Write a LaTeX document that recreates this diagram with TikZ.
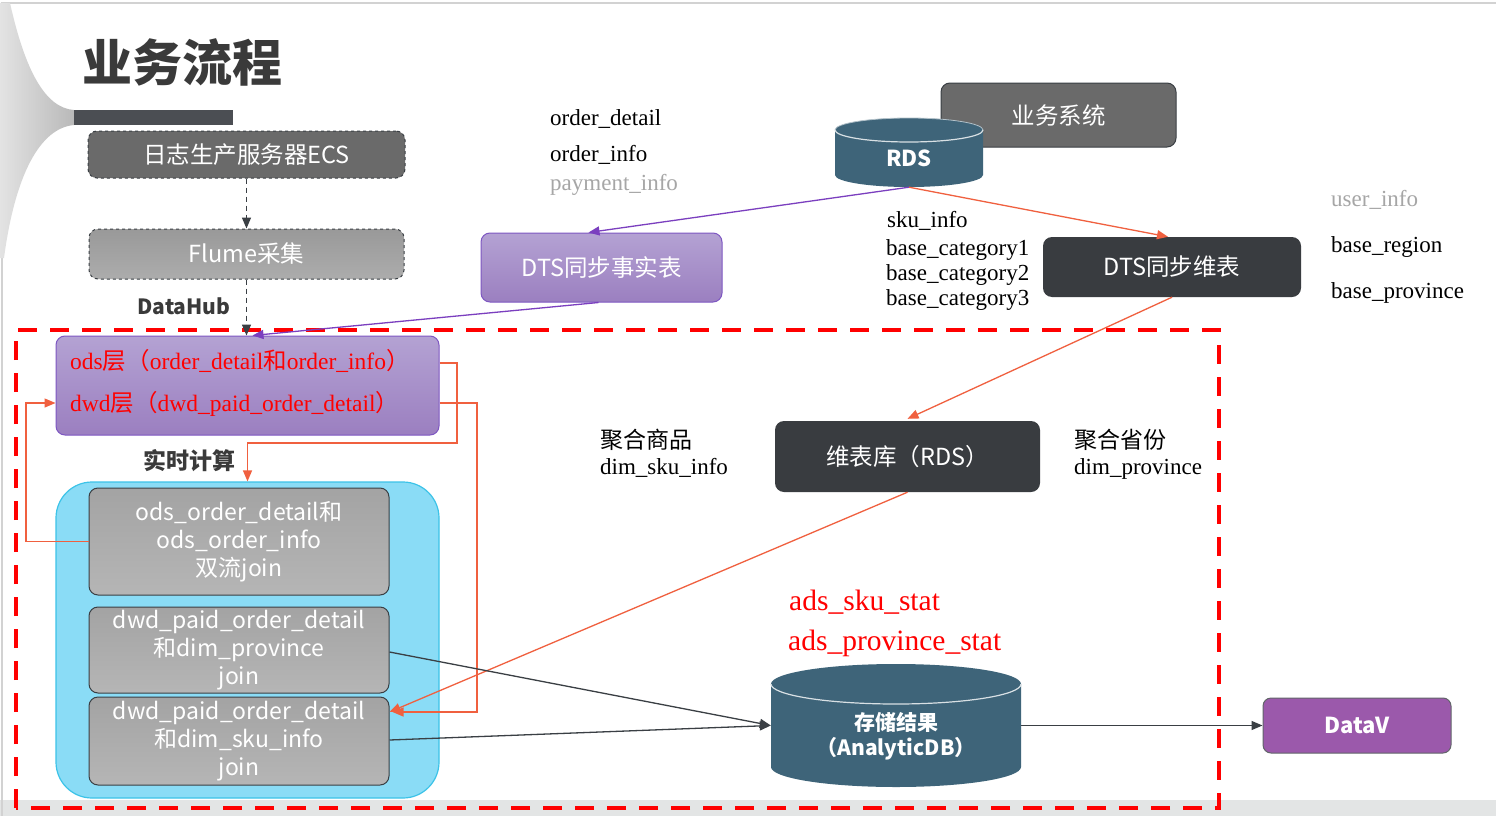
\documentclass[tikz,border=0pt]{standalone}
\usepackage{fontspec}
\setmainfont{Liberation Serif}
\newfontfamily\cjk{Noto Sans CJK SC}
\usetikzlibrary{arrows.meta}
\definecolor{bandgray}{HTML}{E3E5E5}
\definecolor{bardark}{HTML}{4B4E53}
\definecolor{titlec}{HTML}{3A3A3A}
\definecolor{ecsgray}{HTML}{6A6A6A}
\definecolor{slate}{HTML}{3E6479}
\definecolor{darkbox}{HTML}{393C40}
\definecolor{purpTop}{HTML}{B4A2D3}
\definecolor{purpBot}{HTML}{9B7FC0}
\definecolor{purpEdge}{HTML}{7E57C2}
\definecolor{cyanfill}{HTML}{8ADCF6}
\definecolor{cyanedge}{HTML}{3CC3E8}
\definecolor{orangeline}{HTML}{F0603F}
\definecolor{purpline}{HTML}{7B3FBF}
\definecolor{darkline}{HTML}{3A3F44}
\definecolor{datavc}{HTML}{9B59AB}
\definecolor{redtext}{HTML}{FF0000}
\definecolor{greytext}{HTML}{A6A6A6}
\tikzset{
  box/.style={rounded corners=9pt, inner sep=0pt, align=center, text=white,
    font=\cjk\fontsize{23.5}{27}\selectfont},
  innerbox/.style={box, draw=darkline, line width=1pt, top color=gray!72, bottom color=gray!95!black!55,
    minimum width=300pt, font=\cjk\fontsize{23}{28}\selectfont},
  lbl/.style={anchor=base west, inner sep=0pt, font=\fontsize{23}{23}\selectfont, text=black},
  redlbl/.style={anchor=base west, inner sep=0pt, font=\fontsize{23.5}{23.5}\selectfont, text=redtext},
  adslbl/.style={anchor=base west, inner sep=0pt, font=\fontsize{29.5}{29.5}\selectfont, text=redtext},
  cjklbl/.style={anchor=west, inner sep=0pt, font=\cjk\fontsize{23}{23}\selectfont, text=black},
  boldlbl/.style={inner sep=0pt, font=\cjk\bfseries\fontsize{21}{21}\selectfont, text=titlec},
  cyltxt/.style={inner sep=0pt, text=white, font=\cjk\bfseries\fontsize{21}{21}\selectfont},
  oline/.style={draw=orangeline, line width=1.3pt},
  pline/.style={draw=purpline, line width=1.3pt},
  dline/.style={draw=darkline, line width=1.3pt},
  tip/.style={-{Triangle[length=11pt,width=9pt]}},
  ghost/.style={inner sep=0pt, draw=none},
}
\begin{document}
\begin{tikzpicture}[x=1pt,y=-1pt]
\useasboundingbox (0,0) rectangle (1496,816);
\fill[white] (0,0) rectangle (1496,816);
\fill[bandgray] (0,800) rectangle (1496,816);
\draw[gray!35, line width=1.5pt] (2,816) -- (2,3) -- (1496,3);
% decorative fan and bar
\shade[left color=gray!22, right color=gray!55] (0,3) -- (10,3) .. controls (25,70) and (45,108) .. (74,110) -- (74,125) .. controls (40,128) and (15,175) .. (4,258) -- (0,258) -- cycle;
\fill[bardark] (74,110) rectangle (233,125);
\node[anchor=west, inner sep=0pt, text=titlec, font=\cjk\bfseries\fontsize{50}{50}\selectfont] (title) at (82,62) {业务流程};

% red dashed region
\draw[redtext, line width=4pt, dash pattern=on 19pt off 13pt] (16,808) -- (16,330) -- (1219,330) -- (1219,808) -- cycle;

% left column
\node[box, draw=darkline, dashed, line width=1pt, fill=ecsgray, minimum width=317pt, minimum height=47pt] (ecs) at (246.5,154.5) {日志生产服务器ECS};
\node[box, draw=darkline, dashed, line width=1pt, top color=gray!80, bottom color=gray!65, minimum width=315pt, minimum height=50pt] (flume) at (246.5,254) {Flume采集};
\node[boldlbl] (datahub) at (184,306) {DataHub};

\node[box, draw=purpEdge, line width=1pt, top color=purpTop, bottom color=purpBot, minimum width=383pt, minimum height=99pt] (odsdwd) at (247.5,385.5) {};
\node[redlbl] (odstxt) at (70,369) {ods{\cjk 层（}order\_detail{\cjk 和}order\_info{\cjk ）}};
\node[redlbl] (dwdtxt) at (70,411) {dwd{\cjk 层（}dwd\_paid\_order\_detail{\cjk ）}};
\node[boldlbl, font=\cjk\bfseries\fontsize{23}{23}\selectfont] (rt) at (189,461) {实时计算};

\node[box, rounded corners=36pt, draw=cyanedge, line width=1.2pt, fill=cyanfill, minimum width=383pt, minimum height=316pt] (cyan) at (247.5,640) {};
\node[innerbox, minimum height=107pt] (b1) at (239,541.5) {ods\_order\_detail和\\ods\_order\_info\\双流join};
\node[innerbox, minimum height=86pt] (b2) at (239,650) {dwd\_paid\_order\_detail\\和dim\_province\\join};
\node[innerbox, minimum height=88pt] (b3) at (239,741) {dwd\_paid\_order\_detail\\和dim\_sku\_info\\join};

% top middle
\node[lbl] (od) at (550,125) {order\_detail};
\node[lbl] (oi) at (550,161) {order\_info};
\node[lbl, text=greytext] (pi) at (550,190) {payment\_info};
\node[box, draw=purpEdge, line width=1pt, top color=purpTop, bottom color=purpBot, minimum width=241pt, minimum height=69pt] (fact) at (601.5,267.5) {DTS同步事实表};

\node[box, draw=darkline, line width=1pt, fill=ecsgray, minimum width=235pt, minimum height=64pt] (yw) at (1058.5,115) {业务系统};
% RDS cylinder
\fill[slate] (835,130) -- (835,175) arc[start angle=180, end angle=0, x radius=74, y radius=12] -- (983,130) arc[start angle=0, end angle=-180, x radius=74, y radius=12] -- cycle;
\draw[white!80!slate, line width=1.2pt] (835,130) arc[start angle=180, end angle=0, x radius=74, y radius=12];
\draw[white!60!slate, line width=0.8pt] (835,130) arc[start angle=180, end angle=360, x radius=74, y radius=12];
\node[ghost, minimum width=148pt, minimum height=69pt] (rds) at (909,152.5) {};
\node[cyltxt, font=\cjk\bfseries\fontsize{22}{22}\selectfont] (rdstxt) at (909,158) {RDS};

\node[lbl] (sku) at (887,227) {sku\_info};
\node[lbl] (c1) at (886,255) {base\_category1};
\node[lbl] (c2) at (886,280) {base\_category2};
\node[lbl] (c3) at (886,305) {base\_category3};

\node[box, fill=darkbox, minimum width=258pt, minimum height=60pt] (dimsync) at (1172,267) {DTS同步维表};
\node[lbl, text=greytext] (ui) at (1331,206) {user\_info};
\node[lbl] (br) at (1331,252) {base\_region};
\node[lbl] (bp) at (1331,298) {base\_province};

\node[box, fill=darkbox, minimum width=265pt, minimum height=71pt] (dimdb) at (907.5,456.5) {维表库（RDS）};
\node[cjklbl] (jsp) at (600,440) {聚合商品};
\node[lbl] (dsi) at (600,474) {dim\_sku\_info};
\node[cjklbl] (jsf) at (1074,440) {聚合省份};
\node[lbl] (dpv) at (1074,474) {dim\_province};

\node[adslbl] (ads1) at (789,610) {ads\_sku\_stat};
\node[adslbl] (ads2) at (788,650) {ads\_province\_stat};

% storage cylinder
\fill[slate] (771,684) -- (771,767) arc[start angle=180, end angle=0, x radius=125, y radius=20] -- (1021,684) arc[start angle=0, end angle=-180, x radius=125, y radius=20] -- cycle;
\draw[white!80!slate, line width=1.2pt] (771,684) arc[start angle=180, end angle=0, x radius=125, y radius=20];
\node[ghost, minimum width=250pt, minimum height=123pt] (store) at (896,725.5) {};
\node[cyltxt] (storetxt1) at (896,722) {存储结果};
\node[cyltxt] (storetxt2) at (896,749) {（AnalyticDB）};

\node[box, rounded corners=8pt, draw=darkline!80, line width=1pt, fill=datavc, minimum width=188pt, minimum height=55pt, font=\cjk\bfseries\fontsize{22}{22}\selectfont] (datav) at (1357,725.5) {DataV};

% connectors
\draw[dline, dashed, dash pattern=on 5pt off 4pt, tip] (ecs.south) -- (flume.north);
\draw[dline, dashed, dash pattern=on 5pt off 4pt, tip] (flume.south) -- ([xshift=-1pt]odsdwd.north);
\draw[pline, tip] (rds.south) -- ([xshift=-13pt]fact.north);
\draw[pline, tip] ([xshift=-3pt]fact.south) -- ([xshift=5pt]odsdwd.north);
\draw[oline, tip] (rds.south) -- ([xshift=-4pt]dimsync.north);
\draw[oline, tip] (dimsync.south) -- ([yshift=2pt]dimdb.north);
\draw[oline, tip] (dimdb.south) -- ([yshift=29pt]b3.east);
\draw[oline, tip] ([yshift=22.5pt]odsdwd.east) -| (457,443) -| (cyan.north);
\draw[oline, tip] ([yshift=-17.5pt]odsdwd.east) -| (477,712) -- ([yshift=29pt,xshift=3pt]b3.east);
\draw[oline, tip] (b1.west) -| (26,403) -- ([yshift=-17.5pt]odsdwd.west);
\draw[dline, tip] ([yshift=-2pt]b2.east) -- (store.west);
\draw[dline, tip] ([yshift=1pt]b3.east) -- (store.west);
\draw[dline, tip] (store.east) -- (datav.west);
\end{tikzpicture}
\end{document}
